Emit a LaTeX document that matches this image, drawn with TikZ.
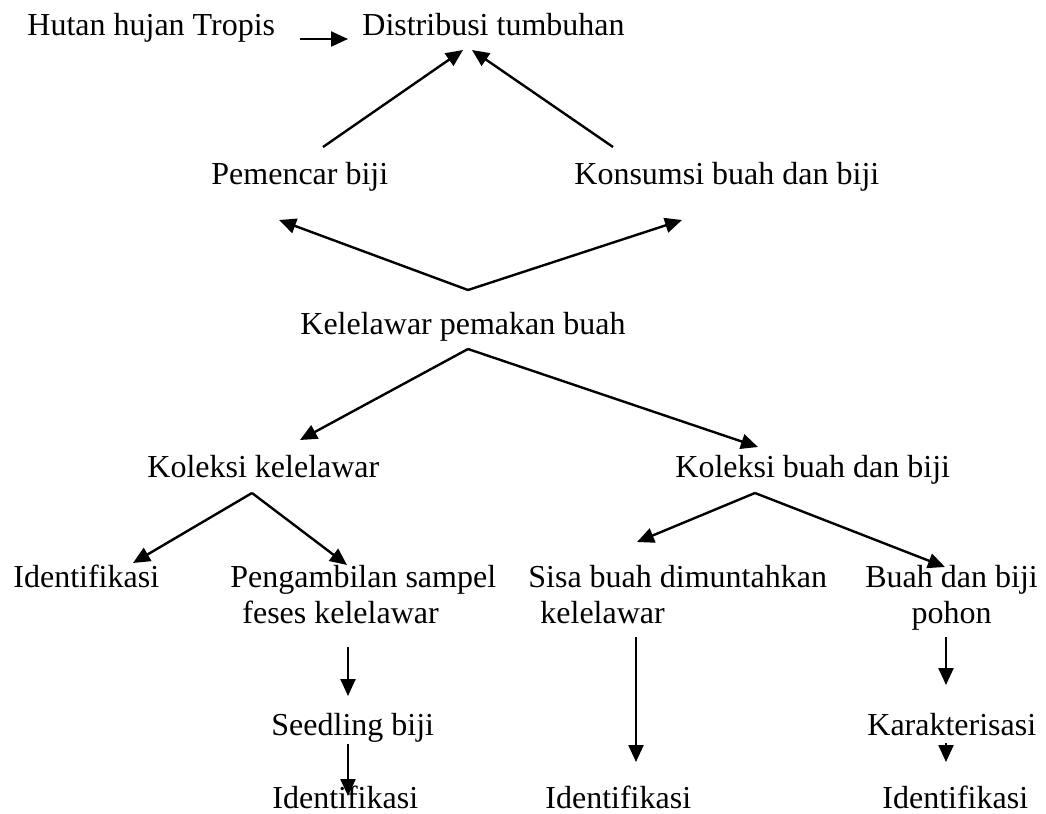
\documentclass[tikz,border=0pt]{standalone}
\usepackage{fontspec}
\setmainfont{Liberation Serif}
\usepackage{tikz}
\usetikzlibrary{positioning,calc,arrows.meta}

\begin{document}
\begin{tikzpicture}[x=0.5pt,y=-0.5pt,font=\fontsize{16}{18}\selectfont,
  lbl/.style={inner sep=0pt,anchor=base west},
  lblm/.style={inner sep=0pt,anchor=north west},
  arr/.style={-{Triangle[length=8.5pt,width=7.5pt]},line width=1.2pt}]
\useasboundingbox (0,0) rectangle (1046,814);
% texts
\node[lbl] (hutan) at (27,35) {Hutan hujan Tropis};
\node[lbl] (dist) at (362,35) {Distribusi tumbuhan};
\node[lbl] (pem) at (211,184) {Pemencar biji};
\node[lbl] (kons) at (574,184) {Konsumsi buah dan biji};
\node[lbl] (kel) at (300,334) {Kelelawar pemakan buah};
\node[lbl] (kolk) at (147,477) {Koleksi kelelawar};
\node[lbl] (kolb) at (675,477) {Koleksi buah dan biji};
\node[lbl] (idl) at (13,587) {Identifikasi};
\node[lblm,align=left] (peng) at (230,565) {Pengambilan sampel\\\hspace*{6pt}feses kelelawar};
\node[lblm,align=left] (sisa) at (528,565) {Sisa buah dimuntahkan\\\hspace*{6pt}kelelawar};
\node[lblm,align=center] (buah) at (865,565) {Buah dan biji\\pohon};
\node[lbl] (seed) at (271,735) {Seedling biji};
\node[lbl] (kar) at (867,735) {Karakterisasi};
\node[lbl] (id2) at (272,808) {Identifikasi};
\node[lbl] (id3) at (545,808) {Identifikasi};
\node[lbl] (id4) at (882,808) {Identifikasi};
% arrows
\draw[arr] ([shift={(273,4)}]hutan.base west) -- ([shift={(-14,4)}]dist.base west);
\draw[arr] ([shift={(112,-37)}]pem.base west) -- ([shift={(101,15)}]dist.base west);
\draw[arr] ([shift={(39,-37)}]kons.base west) -- ([shift={(110,15)}]dist.base west);
\draw[arr] ([shift={(168,-44)}]kel.base west) -- ([shift={(68,36)}]pem.base west);
\draw[arr] ([shift={(168,-44)}]kel.base west) -- ([shift={(108,36)}]kons.base west);
\draw[arr] ([shift={(168,15)}]kel.base west) -- ([shift={(153,-37)}]kolk.base west);
\draw[arr] ([shift={(168,15)}]kel.base west) -- ([shift={(83,-30)}]kolb.base west);
\draw[arr] ([shift={(105,16)}]kolk.base west) -- ([shift={(120,-24)}]idl.base west);
\draw[arr] ([shift={(105,16)}]kolk.base west) -- ([shift={(117,0)}]peng.north west);
\draw[arr] ([shift={(118,82)}]peng.north west) -- ([shift={(77,-39)}]seed.base west);
\draw[arr] ([shift={(77,9)}]seed.base west) -- ([shift={(76,-12)}]id2.base west);
\draw[arr] ([shift={(80,16)}]kolb.base west) -- ([shift={(109,-23)}]sisa.north west);
\draw[arr] ([shift={(80,16)}]kolb.base west) -- ([shift={(80,2)}]buah.north west);
\draw[arr] ([shift={(108,72)}]sisa.north west) -- ([shift={(91,-46)}]id3.base west);
\draw[arr] ([shift={(81,72)}]buah.north west) -- ([shift={(79,-50)}]kar.base west);
\draw[arr] ([shift={(79,8)}]kar.base west) -- ([shift={(64,-46)}]id4.base west);
\end{tikzpicture}
\end{document}
